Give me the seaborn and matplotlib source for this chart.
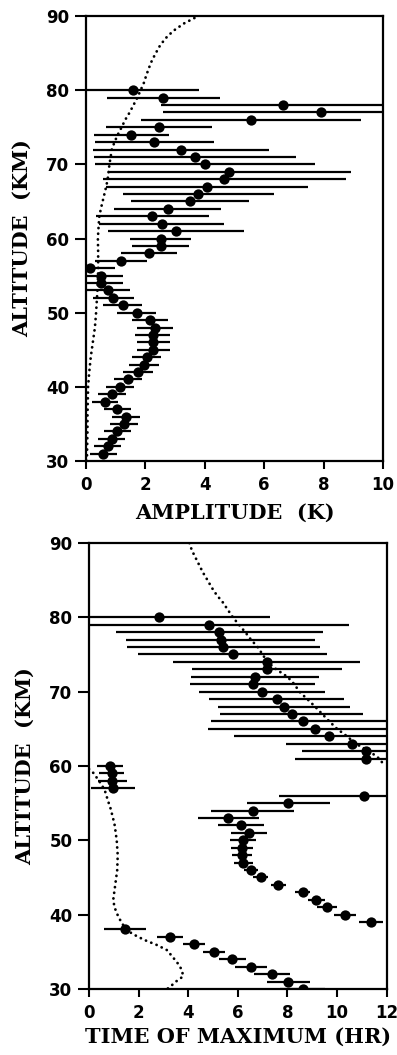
import numpy as np
import matplotlib
matplotlib.use("Agg")
import matplotlib.pyplot as plt
import seaborn as sns

# ---- top panel: amplitude vs altitude ----
amp_alt = [80, 79, 78, 77, 76, 75, 74, 73, 72, 71, 70, 69, 68, 67, 66, 65, 64, 63, 62, 61,
           60, 59, 58, 57, 56, 55, 54, 53, 52, 51, 50, 49, 48, 47, 46, 45, 44, 43, 42, 41,
           40, 39, 38, 37, 36, 35, 34, 33, 32, 31]
amp_val = [1.59, 2.60, 6.64, 7.90, 5.56, 2.46, 1.52, 2.30, 3.19, 3.67, 4.00, 4.83, 4.66, 4.09,
           3.78, 3.50, 2.75, 2.23, 2.55, 3.03, 2.51, 2.51, 2.12, 1.17, 0.13, 0.49, 0.49, 0.75,
           0.92, 1.23, 1.71, 2.16, 2.32, 2.24, 2.27, 2.27, 2.04, 1.95, 1.76, 1.40, 1.14, 0.89,
           0.64, 1.05, 1.35, 1.28, 1.05, 0.86, 0.73, 0.58]
amp_err = [2.20, 1.90, 4.10, 5.30, 3.70, 1.80, 1.26, 2.00, 2.96, 3.40, 3.70, 4.10, 4.10, 3.40,
           2.55, 2.00, 1.80, 1.90, 2.10, 2.30, 1.04, 0.97, 0.93, 0.87, 0.85, 0.77, 0.77, 0.73,
           0.69, 0.65, 0.65, 0.60, 0.60, 0.60, 0.55, 0.55, 0.50, 0.50, 0.50, 0.47, 0.47, 0.47,
           0.45, 0.45, 0.46, 0.46, 0.46, 0.45, 0.45, 0.46]

# model amplitude (dotted)
amp_model_alt = [30, 32, 34, 36, 38, 40, 42, 44, 46, 48, 50, 52, 54, 56, 58, 60, 62, 63, 64, 65,
                 66, 67, 68, 69, 70, 71, 72, 73, 74, 75, 76, 77, 78, 79, 80, 81, 82, 83, 84, 85,
                 86, 87, 88, 89, 90]
amp_model_val = [0.03, 0.04, 0.05, 0.05, 0.06, 0.07, 0.11, 0.16, 0.23, 0.30, 0.34, 0.37, 0.40,
                 0.41, 0.41, 0.40, 0.43, 0.45, 0.50, 0.56, 0.62, 0.68, 0.73, 0.76, 0.79, 0.83,
                 0.87, 0.96, 1.07, 1.20, 1.32, 1.47, 1.60, 1.73, 1.84, 1.95, 2.03, 2.12, 2.22,
                 2.35, 2.49, 2.68, 2.94, 3.30, 3.78]

# ---- bottom panel: time of maximum vs altitude ----
ph_alt = [80, 79, 78, 77, 76, 75, 74, 73, 72, 71, 70, 69, 68, 67, 66, 65, 64, 63, 62, 61,
          60, 59, 58, 57, 56, 55, 54, 53, 52, 51, 50, 49, 48, 47, 46, 45, 44, 43, 42, 41,
          40, 39, 38, 37, 36, 35, 34, 33, 32, 31, 30]
ph_val = [2.83, 4.84, 5.25, 5.31, 5.42, 5.79, 7.16, 7.16, 6.69, 6.60, 6.98, 7.57, 7.86, 8.17,
          8.62, 9.11, 9.69, 10.59, 11.16, 11.16, 0.85, 0.91, 0.95, 0.98, 11.10, 8.04, 6.60,
          5.62, 6.13, 6.45, 6.20, 6.16, 6.17, 6.22, 6.53, 6.92, 7.63, 8.62, 9.16, 9.58, 10.32,
          11.37, 1.45, 3.27, 4.25, 5.04, 5.78, 6.52, 7.37, 8.04, 8.62]
ph_err = [4.47, 5.66, 4.17, 3.80, 3.90, 3.82, 3.77, 3.02, 2.57, 2.53, 2.53, 2.73, 2.65, 2.88,
          3.71, 4.30, 3.83, 2.66, 2.56, 2.85, 0.52, 0.50, 0.57, 0.88, 3.43, 1.68, 1.68, 1.22,
          0.93, 0.72, 0.52, 0.45, 0.40, 0.38, 0.30, 0.30, 0.30, 0.30, 0.35, 0.40, 0.45, 0.50,
          0.85, 0.54, 0.44, 0.46, 0.55, 0.65, 0.72, 0.86, 0.90]

# model phase (dotted), wraps at 12 hr
ph_model_hi_alt = [90, 89, 88, 87, 86, 85, 84, 83, 82, 81, 80, 79, 78, 77, 76, 75, 74, 73, 72,
                   71, 70, 69, 68, 67, 66, 65, 64, 63, 62, 61, 60.1]
ph_model_hi_val = [4.05, 4.15, 4.30, 4.45, 4.60, 4.78, 4.95, 5.15, 5.40, 5.60, 5.80, 6.05, 6.30,
                   6.53, 6.80, 7.00, 7.19, 7.55, 8.00, 8.28, 8.48, 8.80, 9.11, 9.40, 9.69,
                   10.00, 10.40, 10.75, 11.30, 11.70, 11.90]
ph_model_lo_alt = [59.6, 59.0, 58.1, 57.5, 56.6, 55.2, 54.3, 53, 52, 50, 48, 46, 44, 42, 41, 40,
                   39, 38, 37.4, 36.6, 35.9, 35.2, 34.3, 33.7, 32.6, 31.7, 31.0, 30.2, 30]
ph_model_lo_val = [0.0, 0.20, 0.38, 0.51, 0.65, 0.78, 0.87, 0.97, 1.04, 1.12, 1.16, 1.14, 1.06,
                   0.98, 1.03, 1.15, 1.30, 1.50, 1.76, 2.23, 2.75, 3.16, 3.37, 3.53, 3.74, 3.80,
                   3.51, 3.24, 3.15]

sns.set_style("ticks", {"axes.edgecolor": "k", "xtick.color": "k", "ytick.color": "k",
                        "text.color": "k", "axes.labelcolor": "k"})
plt.rcParams["font.family"] = ["DejaVu Sans"]
plt.rcParams["font.weight"] = "bold"

fig = plt.figure(figsize=(3.97, 10.55), dpi=100)
ax1 = fig.add_axes([0.2166, 0.563, 0.748, 0.4218])
ax2 = fig.add_axes([0.224, 0.0626, 0.750, 0.4227])

dots = dict(color="k", lw=2.0, linestyle=(0, (0.05, 2.0)), dash_capstyle="round", zorder=2)
label_font = dict(family="DejaVu Serif", weight="bold", size=15)


def draw_panel(ax, alt, val, err, xmax, xlabel, xpad):
    ax.errorbar(val, alt, xerr=err, fmt="none", ecolor="k", elinewidth=1.6, capsize=0, zorder=3)
    sns.scatterplot(x=val, y=alt, ax=ax, color="k", s=55, linewidth=0, zorder=4)
    ax.set_xlim(0, xmax)
    ax.set_ylim(30, 90)
    ax.set_xticks(np.arange(0, xmax + 1, 2))
    ax.set_yticks(np.arange(30, 91, 10))
    ax.tick_params(axis="x", direction="out", length=6, width=1.5, labelsize=12, pad=5)
    ax.tick_params(axis="y", direction="out", length=8, width=1.5, labelsize=12, pad=4)
    for lab in ax.get_xticklabels() + ax.get_yticklabels():
        lab.set_fontweight("bold")
    for sp in ax.spines.values():
        sp.set_linewidth(1.6)
    ax.set_xlabel(xlabel, fontdict=label_font, labelpad=xpad)
    ax.set_ylabel("ALTITUDE  (KM)", fontdict=label_font, labelpad=10)


ax1.plot(amp_model_val, amp_model_alt, **dots)
draw_panel(ax1, amp_alt, amp_val, amp_err, 10, "AMPLITUDE  (K)", 6)

ax2.plot(ph_model_hi_val, ph_model_hi_alt, **dots)
ax2.plot(ph_model_lo_val, ph_model_lo_alt, **dots)
draw_panel(ax2, ph_alt, ph_val, ph_err, 12, "TIME OF MAXIMUM (HR)", 3)

fig.savefig("out.png", dpi=100)
